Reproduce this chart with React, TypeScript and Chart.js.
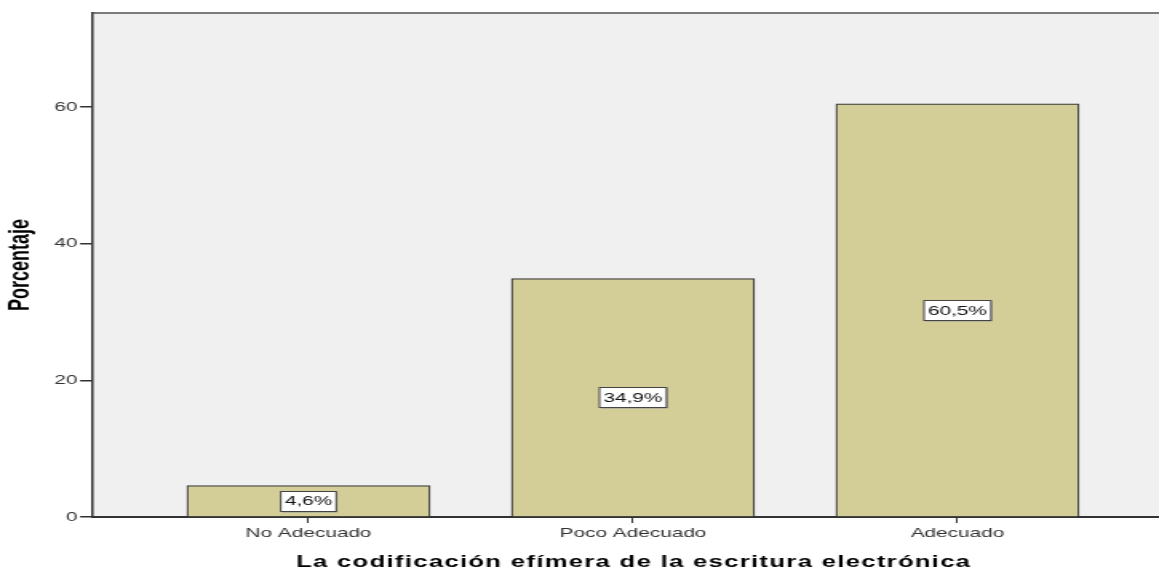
import React, { useEffect, useRef } from "react";
import { Chart, registerables } from "chart.js";

Chart.register(...registerables);

const categories = ["No Adecuado", "Poco Adecuado", "Adecuado"];
const percentages = [4.6, 34.9, 60.5];
const yTicks = [0, 20, 40, 60];
const yMax = 73.8;
const xTitle = "La codificación efímera de la escritura electrónica";
const yTitle = "Porcentaje";

// the reference image is horizontally stretched; render narrow and stretch via CSS
const DISPLAY_W = 1159;
const DISPLAY_H = 573;
const INNER_W = 725;
const S = DISPLAY_W / INNER_W;
const FONT = '"Liberation Sans", Arial, sans-serif';

const framePlugin = {
  id: "framePlugin",
  beforeDraw(chart: any) {
    const { ctx, chartArea } = chart;
    ctx.save();
    ctx.fillStyle = "#f0f0f0";
    ctx.fillRect(chartArea.left, chartArea.top, chartArea.right - chartArea.left, chartArea.bottom - chartArea.top);
    ctx.strokeStyle = "#7a7a7a";
    ctx.lineWidth = 2;
    ctx.beginPath();
    ctx.moveTo(chartArea.left, chartArea.top);
    ctx.lineTo(chartArea.right, chartArea.top);
    ctx.stroke();
    ctx.restore();
  },
  afterDatasetsDraw(chart: any) {
    const { ctx } = chart;
    const meta = chart.getDatasetMeta(0);
    ctx.save();
    ctx.font = "13px " + FONT;
    ctx.textAlign = "center";
    ctx.textBaseline = "middle";
    meta.data.forEach((bar: any, i: number) => {
      const label = percentages[i].toFixed(1).replace(".", ",") + "%";
      const cx = bar.x;
      const cy = (bar.y + bar.base) / 2;
      const w = ctx.measureText(label).width + 5;
      const h = 20;
      const x0 = cx - w / 2;
      const y0 = Math.round(cy - h / 2) + 0.5;
      ctx.fillStyle = "#9a9a9a";
      ctx.fillRect(x0 + 0.8, y0 + 1, w, h);
      ctx.fillStyle = "#ffffff";
      ctx.fillRect(x0, y0, w, h);
      ctx.strokeStyle = "#444";
      ctx.lineWidth = 1;
      ctx.strokeRect(x0, y0, w, h);
      ctx.fillStyle = "#111";
      ctx.fillText(label, cx, cy + 1);
    });
    ctx.restore();
  },
  afterDraw(chart: any) {
    const { ctx, chartArea } = chart;
    ctx.save();
    ctx.translate(21 / S, (chartArea.top + chartArea.bottom) / 2);
    ctx.rotate(-Math.PI / 2);
    ctx.font = "bold 18px " + FONT;
    ctx.fillStyle = "#000";
    ctx.textAlign = "center";
    ctx.textBaseline = "middle";
    ctx.fillText(yTitle, 0, 0);
    ctx.restore();

    ctx.save();
    ctx.font = "bold 16px " + FONT;
    ctx.fillStyle = "#000";
    ctx.textBaseline = "middle";
    ctx.textAlign = "left";
    const plain = ctx.measureText(xTitle).width;
    const target = 674 / S;
    const spacing = (target - plain) / (xTitle.length - 1);
    let x = 633 / S - target / 2;
    const y = 563;
    for (const ch of xTitle) {
      ctx.fillText(ch, x, y);
      x += ctx.measureText(ch).width + spacing;
    }
    ctx.restore();
  },
};

export default function App() {
  const ref = useRef<HTMLCanvasElement | null>(null);
  useEffect(() => {
    if (!ref.current) return;
    const chart = new Chart(ref.current, {
      type: "bar",
      data: {
        datasets: [
          {
            data: categories.map((_, i) => ({ x: i, y: percentages[i] })) as any,
            backgroundColor: "#d3ce97",
            borderColor: "#3a3a3a",
            borderWidth: 1.2,
            barThickness: 243 / S,
          },
        ],
      },
      options: {
        animation: false,
        responsive: false,
        maintainAspectRatio: false,
        devicePixelRatio: 1,
        layout: { padding: { top: 13, left: 0, right: 0, bottom: 0 } },
        plugins: { legend: { display: false }, tooltip: { enabled: false } },
        scales: {
          x: {
            type: "linear",
            offset: false,
            min: -0.664,
            max: 2.621,
            afterBuildTicks: (scale: any) => {
              scale.ticks = categories.map((_, i) => ({ value: i }));
            },
            afterFit: (scale: any) => {
              scale.height = 56;
            },
            ticks: {
              callback: (v: any) => categories[v] ?? "",
              font: { family: FONT, size: 13 },
              color: "#333",
              padding: 3,
              maxRotation: 0,
              autoSkip: false,
            },
            grid: { offset: false, drawOnChartArea: false, tickLength: 6, color: "#333", lineWidth: 1 },
            border: { color: "#333", width: 2 },
          },
          y: {
            min: 0,
            max: yMax,
            afterBuildTicks: (scale: any) => {
              scale.ticks = yTicks.map((v) => ({ value: v }));
            },
            afterFit: (scale: any) => {
              scale.width = 93 / S;
            },
            ticks: {
              font: { family: FONT, size: 13 },
              color: "#333",
              padding: 1.5,
            },
            grid: { drawOnChartArea: false, tickLength: 13 / S, color: "#333", lineWidth: 1.5 },
            border: { color: "#333", width: 1.5 },
          },
        },
      } as any,
      plugins: [framePlugin],
    });
    return () => chart.destroy();
  }, []);
  return (
    <div style={{ position: "absolute", left: 0, top: 0, width: DISPLAY_W, height: DISPLAY_H, background: "#fff", overflow: "hidden" }}>
      <canvas
        ref={ref}
        width={INNER_W}
        height={DISPLAY_H}
        style={{ width: DISPLAY_W, height: DISPLAY_H, display: "block" }}
      />
    </div>
  );
}
